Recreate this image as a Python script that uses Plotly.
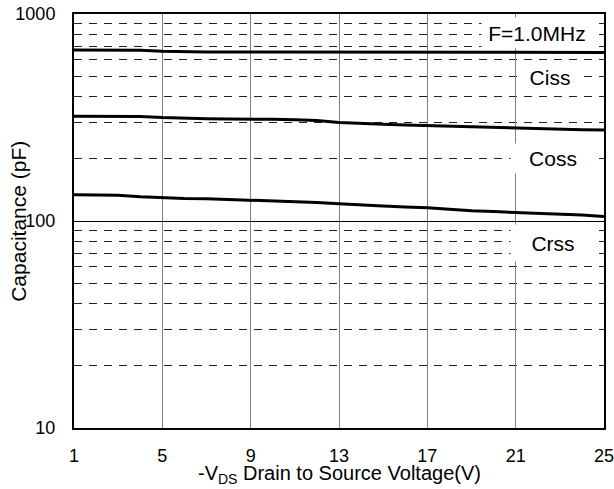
import plotly.graph_objects as go

# Drain-source voltage (V) and capacitances (pF)
vds = list(range(1, 26))
ciss = [670, 670, 670, 668, 660, 656, 655, 655, 655, 655, 655, 655, 655,
        655, 655, 655, 655, 655, 653, 650, 650, 652, 652, 652, 652]
coss = [321, 321, 321, 320, 316, 313, 312, 311, 311, 310, 308, 306, 299,
        295, 293, 291, 289, 286, 285, 284, 282, 279, 277, 276, 275]
crss = [134, 134, 133, 131, 129.5, 128.5, 128, 127, 126, 125, 124, 123, 121,
        119, 118, 117, 116, 114, 112, 111, 110, 109, 108, 107, 105]

x_ticks = [1, 5, 9, 13, 17, 21, 25]
y_ticks = [10, 100, 1000]
y_minor = [20, 30, 40, 50, 60, 70, 80, 90, 200, 300, 400, 500, 600, 700, 800, 900]

font = "Liberation Sans, Arial, sans-serif"

fig = go.Figure()
for series in (ciss, coss, crss):
    fig.add_trace(go.Scatter(x=vds, y=series, mode="lines",
                             line=dict(color="black", width=3),
                             showlegend=False, hoverinfo="skip"))

# Curve labels with white boxes
labels = [
    ("F=1.0MHz", 21.97, 2.908, 110, 30),
    ("Ciss", 22.56, 2.696, 64, 30),
    ("Coss", 22.69, 2.304, 84, 29),
    ("Crss", 22.69, 1.894, 84, 36),
]
for text, x, y, w, h in labels:
    fig.add_annotation(x=x, y=y, xref="x", yref="y", text=text, showarrow=False,
                       font=dict(family=font, size=21, color="black"),
                       bgcolor="white", width=w, height=h, borderpad=0,
                       xanchor="center", yanchor="middle")

# Axis titles
fig.add_annotation(x=0.5, y=-0.113, xref="paper", yref="paper",
                   text="-V<sub>DS</sub> Drain to Source Voltage(V)",
                   showarrow=False, xanchor="center", yanchor="middle",
                   font=dict(family=font, size=20, color="black"))
fig.add_annotation(x=-0.106, y=0.5, xref="paper", yref="paper",
                   text="Capacitance (pF)", textangle=-90,
                   showarrow=False, xanchor="center", yanchor="middle",
                   font=dict(family=font, size=21, color="black"))

fig.update_xaxes(range=[1, 25], tickmode="array", tickvals=x_ticks,
                 showgrid=True, gridcolor="#808080", gridwidth=1,
                 zeroline=False, showline=True, linecolor="black", linewidth=2,
                 mirror=True, ticks="", ticklabelstandoff=10, automargin=False,
                 ticklabeloverflow="allow",
                 tickfont=dict(family=font, size=18, color="black"))
fig.update_yaxes(type="log", range=[1, 3], tickmode="array", tickvals=y_ticks,
                 showgrid=True, gridcolor="black", gridwidth=1.2,
                 zeroline=False, showline=True, linecolor="black", linewidth=2,
                 mirror=True, ticks="", ticklabelstandoff=13, automargin=False,
                 tickfont=dict(family=font, size=18, color="black"),
                 minor=dict(tickmode="array", tickvals=y_minor, showgrid=True,
                            gridcolor="#222222", gridwidth=1, griddash="8px,7px",
                            ticks=""))

fig.update_layout(width=614, height=489, autosize=False,
                  margin=dict(l=74, r=10, t=14, b=61),
                  paper_bgcolor="white", plot_bgcolor="white")

fig.write_html("out.html")
